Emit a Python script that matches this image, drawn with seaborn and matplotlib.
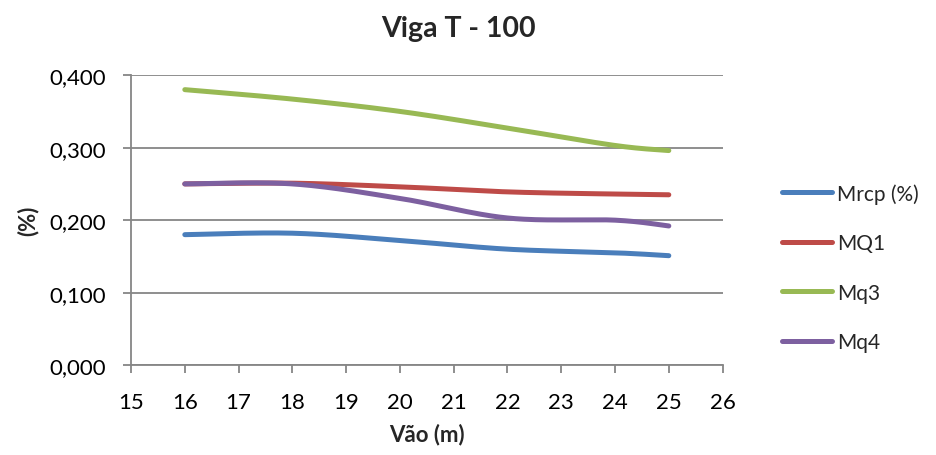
import numpy as np
import pandas as pd
import matplotlib
matplotlib.use("Agg")
import matplotlib.pyplot as plt
import seaborn as sns
from matplotlib.ticker import FuncFormatter, MultipleLocator

# Span lengths (m) and ratio series (%)
vao = [16, 18, 20, 22, 24, 25]
mrcp = [0.180, 0.182, 0.172, 0.160, 0.155, 0.151]
mq1 = [0.250, 0.251, 0.246, 0.239, 0.236, 0.235]
mq3 = [0.380, 0.367, 0.350, 0.327, 0.303, 0.296]
mq4 = [0.250, 0.250, 0.230, 0.203, 0.200, 0.192]

series_names = ["Mrcp (%)", "MQ1", "Mq3", "Mq4"]
series_values = [mrcp, mq1, mq3, mq4]
colors = ["#4A7EBB", "#BE4B48", "#98B954", "#7D60A0"]


def smooth(x, y, n=40):
    """Bezier smoothing through each point (spreadsheet-style smoothed line)."""
    x = np.asarray(x, float)
    y = np.asarray(y, float)
    px, py = [], []
    m = len(x)
    for i in range(m - 1):
        x0, y0 = (x[i - 1], y[i - 1]) if i > 0 else (x[i], y[i])
        x1, y1 = x[i], y[i]
        x2, y2 = x[i + 1], y[i + 1]
        x3, y3 = (x[i + 2], y[i + 2]) if i + 2 < m else (x2, y2)
        c1x, c1y = x1 + (x2 - x0) / 6, y1 + (y2 - y0) / 6
        c2x, c2y = x2 - (x3 - x1) / 6, y2 - (y3 - y1) / 6
        t = np.linspace(0, 1, n, endpoint=(i == m - 2))
        a, b, c, d = (1 - t) ** 3, 3 * t * (1 - t) ** 2, 3 * t ** 2 * (1 - t), t ** 3
        px.append(a * x1 + b * c1x + c * c2x + d * x2)
        py.append(a * y1 + b * c1y + c * c2y + d * y2)
    return np.concatenate(px), np.concatenate(py)


frames = []
for name, vals in zip(series_names, series_values):
    sx, sy = smooth(vao, vals)
    frames.append(pd.DataFrame({"Vão": sx, "valor": sy, "serie": name}))
df = pd.concat(frames, ignore_index=True)

sns.set_theme(style="white")
plt.rcParams["font.family"] = ["Lato", "DejaVu Sans"]

fig = plt.figure(figsize=(9.36, 4.56), dpi=100)
ax = fig.add_axes([0.140, 0.197, 0.632, 0.636])

sns.lineplot(data=df, x="Vão", y="valor", hue="serie", hue_order=series_names,
             palette=colors, sort=False, estimator=None,
             linewidth=3.6, ax=ax, legend=False, solid_capstyle="round")

grid_c = "#868686"
ax.set_xlim(15, 26)
ax.set_ylim(0, 0.4)
ax.xaxis.set_major_locator(MultipleLocator(1))
ax.yaxis.set_major_locator(MultipleLocator(0.1))
ax.yaxis.set_major_formatter(FuncFormatter(lambda v, p: f"{v:.3f}".replace(".", ",")))
ax.grid(axis="y", color=grid_c, linewidth=1.3)
ax.set_axisbelow(True)
for s in ["top", "right"]:
    ax.spines[s].set_visible(False)
for s in ["left", "bottom"]:
    ax.spines[s].set_color(grid_c)
    ax.spines[s].set_linewidth(1.3)
ax.tick_params(axis="both", which="major", direction="out", length=6, width=1.3,
               color=grid_c, labelsize=16, labelcolor="black")
ax.tick_params(axis="x", bottom=True, pad=13)
ax.tick_params(axis="y", left=True, pad=12)

ax.set_xlabel("Vão (m)", fontsize=16, fontweight="bold", labelpad=8)
ax.set_ylabel("(%)", fontsize=16, fontweight="bold", labelpad=8)
fig.text(0.49, 0.936, "Viga T - 100", ha="center", va="center",
         fontsize=20.5, fontweight="bold")

# Legend on the right
handles = [plt.Line2D([0], [0], color=c, linewidth=3.6, solid_capstyle="round") for c in colors]
fig.legend(handles, series_names, loc="center left", bbox_to_anchor=(0.8355, 0.411),
           frameon=False, fontsize=15, handlelength=2.4, handletextpad=0.25,
           labelspacing=1.42, borderpad=0, borderaxespad=0)

fig.savefig("out.png", dpi=100)
